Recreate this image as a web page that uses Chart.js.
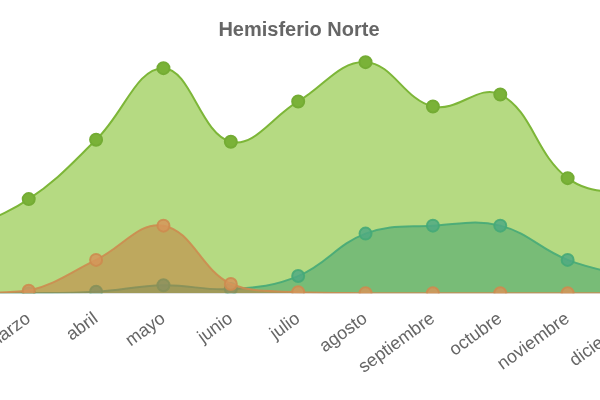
<!DOCTYPE html>
<html>
<head>
<meta charset="utf-8">
<script src="https://cdn.jsdelivr.net/npm/chart.js@4/dist/chart.umd.min.js"></script>
<style>
  html, body { margin: 0; padding: 0; background: #fff; overflow: hidden; }
  body { width: 600px; height: 400px; position: relative; }
  #wrap { position: absolute; left: -200px; top: 0; width: 904px; height: 400px; }
</style>
</head>
<body>
<div id="wrap"><canvas id="c"></canvas></div>
<script>
const chartTitle = 'Hemisferio Norte';
const months = ['enero','febrero','marzo','abril','mayo','junio','julio','agosto','septiembre','octubre','noviembre','diciembre'];
const seriesGreen  = [15, 26, 39, 63.6, 93.3, 62.8, 79.5, 95.8, 77.4, 82.4, 47.7, 40];
const seriesOrange = [0, 0, 1, 13.8, 28, 3.8, 0.4, 0, 0, 0, 0, 0];
const seriesTeal   = [0, 0, 0, 0.6, 3.3, 1.7, 7.1, 24.7, 28, 28, 13.8, 6.3];
const yMax = 100;

new Chart(document.getElementById('c'), {
  type: 'line',
  data: {
    labels: months,
    datasets: [
      {
        label: 'naranja',
        data: seriesOrange,
        fill: 'origin',
        backgroundColor: 'rgba(200,120,60,0.5)',
        borderColor: 'rgba(205,140,80,0.9)',
        borderWidth: 2,
        pointRadius: 6,
        pointBackgroundColor: 'rgba(214,150,90,0.85)',
        pointBorderColor: 'rgba(205,140,80,0.9)',
        tension: 0.4
      },
      {
        label: 'verde oscuro',
        data: seriesTeal,
        fill: 'origin',
        backgroundColor: 'rgba(60,160,110,0.5)',
        borderColor: 'rgba(70,170,120,0.9)',
        borderWidth: 2,
        pointRadius: 6,
        pointBackgroundColor: 'rgba(80,170,130,0.85)',
        pointBorderColor: 'rgba(70,170,120,0.9)',
        tension: 0.4
      },
      {
        label: 'verde',
        data: seriesGreen,
        fill: 'origin',
        backgroundColor: 'rgba(141,198,63,0.65)',
        borderColor: 'rgb(125,182,56)',
        borderWidth: 2,
        pointRadius: 6,
        pointBackgroundColor: 'rgb(122,178,56)',
        pointBorderColor: 'rgb(116,172,52)',
        tension: 0.4
      }
    ]
  },
  options: {
    responsive: true,
    maintainAspectRatio: false,
    animation: false,
    layout: { padding: { left: 94, right: 0, top: 0, bottom: 7 } },
    plugins: {
      legend: { display: false },
      tooltip: { enabled: false },
      title: {
        display: true,
        text: chartTitle,
        color: '#666',
        font: { family: '"Liberation Sans", Arial, sans-serif', size: 20, weight: 'bold' },
        padding: { top: 18, bottom: 10 }
      }
    },
    scales: {
      x: {
        grid: { display: false, drawTicks: false },
        border: { display: true, color: 'rgba(0,0,0,0.1)' },
        ticks: {
          color: '#666',
          font: { family: '"Liberation Sans", Arial, sans-serif', size: 18 },
          minRotation: 36,
          maxRotation: 36,
          padding: 15
        }
      },
      y: {
        position: 'right',
        min: 0,
        max: yMax,
        grid: { display: false, drawTicks: false },
        border: { display: false },
        ticks: { display: false },
        afterFit: (s) => { s.width = 69; }
      }
    }
  }
});
</script>
</body>
</html>
